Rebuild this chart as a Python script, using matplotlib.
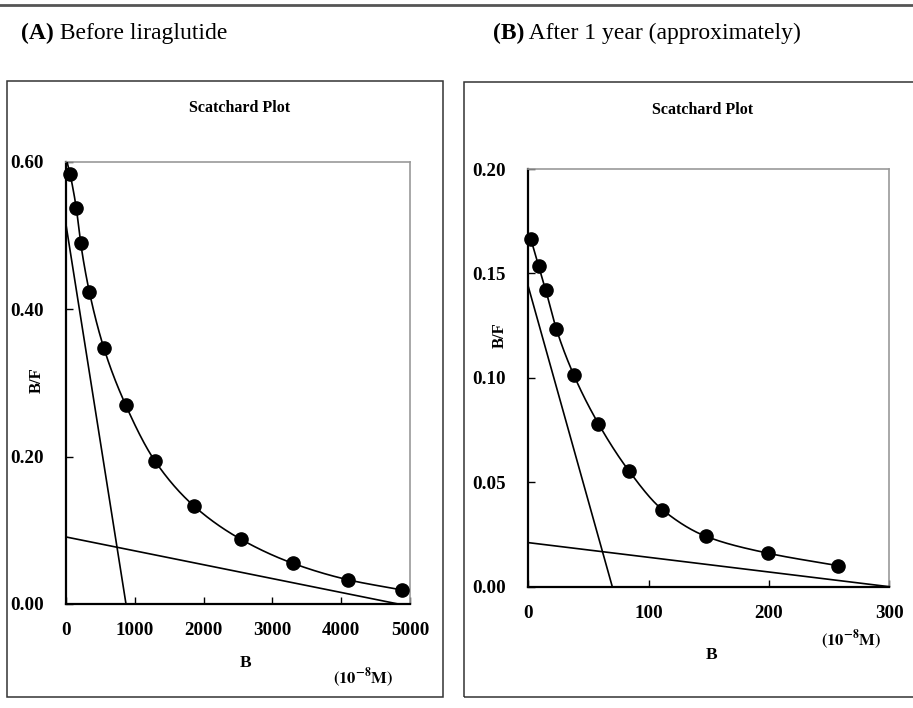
import numpy as np
import matplotlib
matplotlib.use('Agg')
import matplotlib.pyplot as plt
from matplotlib.patches import Rectangle
from matplotlib.lines import Line2D
from matplotlib.text import Annotation

plt.rcParams['font.family'] = ['Liberation Serif', 'DejaVu Serif']
plt.rcParams['mathtext.fontset'] = 'stix'

# panel A: before liraglutide
b_a = [58, 150, 213, 339, 552, 868, 1294, 1860, 2539, 3304, 4094, 4888]
bf_a = [0.584, 0.537, 0.490, 0.424, 0.347, 0.270, 0.194, 0.133, 0.088, 0.055, 0.033, 0.019]
# (x intercept, y intercept) of the high and low affinity lines
high_a = [872, 0.515]
low_a = [4830, 0.091]

# panel B: after 1 year
b_b = [2.2, 8.6, 14.4, 23.3, 37.7, 58.2, 83.7, 111.4, 147.7, 199.5, 257.1]
bf_b = [0.1663, 0.1536, 0.1422, 0.1234, 0.1015, 0.0781, 0.0554, 0.0369, 0.0241, 0.0160, 0.0101]
high_b = [69.8, 0.1437]
low_b = [300, 0.0211]

W, H = 913, 708
fig = plt.figure(figsize=[W / 100, H / 100], dpi=100)


def fx(px):
    return px / W


def fy(py):
    return 1 - py / H


def pchip(x, y, xs):
    # monotone cubic through the points
    x = np.asarray(x, float)
    y = np.asarray(y, float)
    h = np.diff(x)
    d = np.diff(y) / h
    m = np.zeros_like(y)
    for k in range(1, len(x) - 1):
        if d[k - 1] * d[k] > 0:
            w1 = 2 * h[k] + h[k - 1]
            w2 = h[k] + 2 * h[k - 1]
            m[k] = (w1 + w2) / (w1 / d[k - 1] + w2 / d[k])
    m[0] = d[0]
    m[-1] = d[-1]
    i = np.clip(np.searchsorted(x, xs) - 1, 0, len(x) - 2)
    t = (xs - x[i]) / h[i]
    h00 = 2 * t ** 3 - 3 * t ** 2 + 1
    h10 = t ** 3 - 2 * t ** 2 + t
    h01 = -2 * t ** 3 + 3 * t ** 2
    h11 = t ** 3 - t ** 2
    return h00 * y[i] + h10 * h[i] * m[i] + h01 * y[i + 1] + h11 * h[i] * m[i + 1]


def fit_curve(bvals, bfvals, high, low):
    xs = list(bvals)
    ys = list(bfvals)
    # at B = 0 the two-site curve equals the sum of both intercepts
    start = high[1] + low[1]
    if start > ys[0]:
        xs = [0] + xs
        ys = [start] + ys
    bx = np.linspace(xs[0], xs[-1], 600)
    return bx, pchip(xs, ys, bx)


def panel(rect, bvals, bfvals, high, low, xlim, ylim, xticks, yticks):
    ax = fig.add_axes(rect)
    cb, cbf = fit_curve(bvals, bfvals, high, low)
    ax.plot(cb, cbf, color='black', lw=1.2, zorder=3)
    ax.plot([0, high[0]], [high[1], 0], color='black', lw=1.2, clip_on=False, zorder=3)
    ax.plot([0, low[0]], [low[1], 0], color='black', lw=1.2, clip_on=False, zorder=3)
    ax.plot(bvals, bfvals, 'o', color='black', ms=9.5, zorder=4, clip_on=False)
    ax.set_xlim(xlim)
    ax.set_ylim(ylim)
    ax.set_xticks(xticks)
    ax.set_yticks(yticks)
    ax.set_yticklabels(['%.2f' % v for v in yticks])
    ax.tick_params(direction='in', length=5, width=1, color='black', labelsize=13.7)
    ax.tick_params(axis='y', pad=16)
    ax.tick_params(axis='x', pad=13)
    for lab in ax.get_xticklabels() + ax.get_yticklabels():
        lab.set_fontweight('bold')
    ax.spines['left'].set_linewidth(1.6)
    ax.spines['bottom'].set_linewidth(1.6)
    ax.spines['top'].set_color('#999999')
    ax.spines['right'].set_color('#999999')
    ax.spines['top'].set_linewidth(1.2)
    ax.spines['right'].set_linewidth(1.2)
    return ax


ax1 = panel([fx(66), fy(604), fx(410 - 66), (604 - 162) / H],
            b_a, bf_a, high_a, low_a, (0, 5000), (0, 0.6),
            [0, 1000, 2000, 3000, 4000, 5000], [0.0, 0.2, 0.4, 0.6])
ax2 = panel([fx(528.3), fy(586.7), fx(889.3 - 528.3), (586.7 - 169) / H],
            b_b, bf_b, high_b, low_b, (0, 300), (0, 0.2),
            [0, 100, 200, 300], [0.0, 0.05, 0.10, 0.15, 0.20])

# frames round the panels and rule at the top
fig.add_artist(Rectangle((fx(7), fy(697)), fx(443 - 7), (697 - 81) / H,
                         transform=fig.transFigure, fill=False, ec='#333333', lw=1.1))
fig.add_artist(Rectangle((fx(464), fy(697)), fx(480), (697 - 82) / H,
                         transform=fig.transFigure, fill=False, ec='#333333', lw=1.1))
fig.add_artist(Line2D([0, 1], [fy(5), fy(5)], transform=fig.transFigure,
                      color='#555555', lw=2))

# panel headings
ta = fig.text(fx(21), fy(44), '(A)', fontsize=17, fontweight='bold', va='bottom')
fig.add_artist(Annotation(' Before liraglutide', xy=(1, 0), xycoords=ta,
                          fontsize=17, va='bottom'))
tb = fig.text(fx(493), fy(44), '(B)', fontsize=17, fontweight='bold', va='bottom')
fig.add_artist(Annotation(' After 1 year (approximately)', xy=(1, 0), xycoords=tb,
                          fontsize=17, va='bottom'))

fig.text(fx(240), fy(108), 'Scatchard Plot', fontsize=11.5, fontweight='bold',
         ha='center', va='center')
fig.text(fx(703), fy(110), 'Scatchard Plot', fontsize=11.5, fontweight='bold',
         ha='center', va='center')

# axis labels
fig.text(fx(37), fy(380), 'B/F', fontsize=12, fontweight='bold', rotation=90,
         ha='center', va='center')
fig.text(fx(500), fy(335), 'B/F', fontsize=12, fontweight='bold', rotation=90,
         ha='center', va='center')
fig.text(fx(246), fy(663), 'B', fontsize=12.5, fontweight='bold', ha='center', va='center')
fig.text(fx(712), fy(655), 'B', fontsize=12.5, fontweight='bold', ha='center', va='center')
fig.text(fx(363), fy(678), r'$\mathbf{(10^{-8}M)}$', fontsize=12, ha='center', va='center')
fig.text(fx(851), fy(640), r'$\mathbf{(10^{-8}M)}$', fontsize=12, ha='center', va='center')

fig.savefig('out.png', dpi=100)
